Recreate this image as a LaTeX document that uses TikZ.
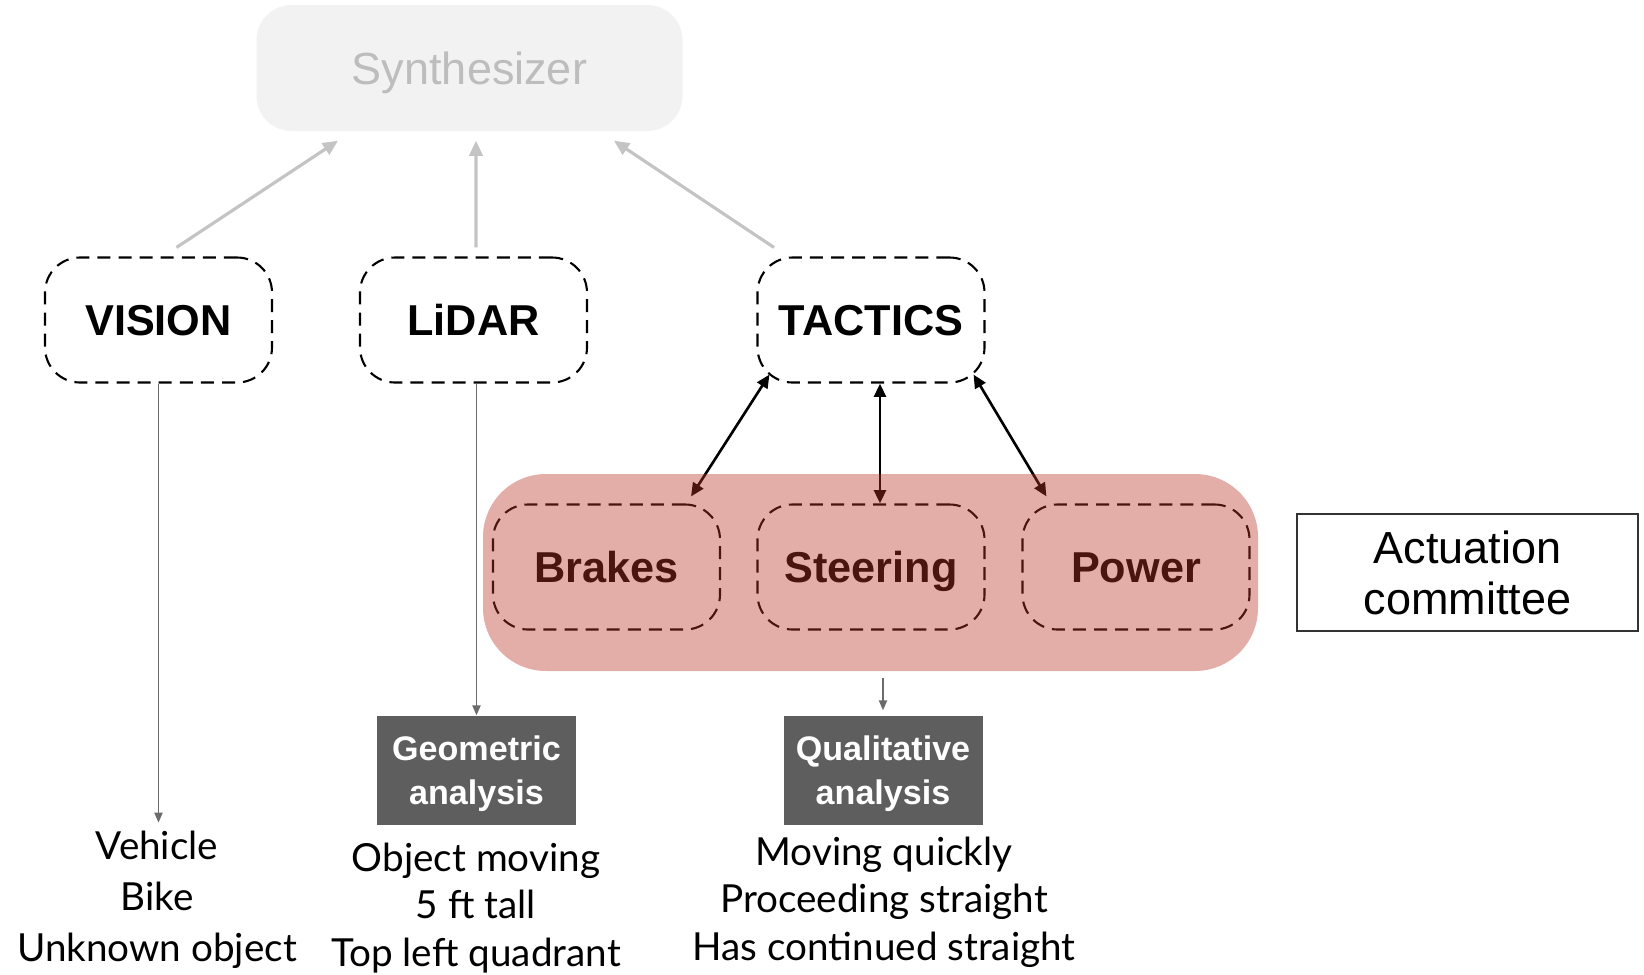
\documentclass[tikz,border=0pt]{standalone}
\usepackage{fontspec}
\setmainfont{Liberation Sans}
\newfontfamily\listfont{Lato}
\usetikzlibrary{positioning,arrows.meta}
\definecolor{synthfill}{RGB}{242,242,242}
\definecolor{synthtext}{RGB}{189,189,189}
\definecolor{synthline}{RGB}{196,196,196}
\definecolor{groupred}{RGB}{185,50,38}
\definecolor{darkbox}{RGB}{94,94,94}
\definecolor{downline}{RGB}{107,107,107}

\begin{document}
\begin{tikzpicture}[
        tagfont/.style={font=\fontsize{12.3}{14}\selectfont\bfseries},
        dashbox/.style={rectangle, draw, dash pattern=on 3.7pt off 2.3pt, line width=0.6pt, rounded corners=0.35cm, minimum width=2.27cm, minimum height=1.25cm, text height=1.08em, text depth=0.22em, tagfont},
        synthbox/.style={rectangle, fill=synthfill, rounded corners=0.35cm, minimum width=4.26cm, minimum height=1.26cm, text height=1.16em, text depth=0.22em, text=synthtext, font=\fontsize{12.8}{15}\selectfont},
        groupbox/.style={rectangle, fill=groupred, fill opacity=0.4, rounded corners=0.63cm, minimum width=7.75cm, minimum height=1.97cm},
        greybox/.style={rectangle, fill=darkbox, text=white, minimum width=1.99cm, minimum height=1.09cm, align=center, inner sep=1pt, text depth=-0.18em, font=\fontsize{9.7}{12.5}\selectfont\bfseries},
        plainbox/.style={rectangle, draw=black!80, line width=0.4pt, minimum width=3.41cm, minimum height=1.17cm, align=center, font=\fontsize{12.8}{14.5}\selectfont},
        listtext/.style={align=center, inner sep=0pt, font=\listfont\fontsize{11}{13.5}\selectfont},
        synarrow/.style={-{Triangle[length=4.3pt,width=3.8pt]}, line width=0.9pt, draw=synthline},
        linkarrow/.style={{Triangle[length=3.8pt,width=3.4pt]}-{Triangle[length=3.8pt,width=3.4pt]}, line width=0.75pt},
        downarrow/.style={-{Triangle[length=2.8pt,width=2.3pt]}, line width=0.45pt, draw=downline}
    ]
    \useasboundingbox (0,0) rectangle (16.44,-9.75);

    \node[synthbox] (synth) at (4.695,-0.68) {Synthesizer};

    \node[dashbox] (vision) at (1.585,-3.20) {VISION};
    \node[dashbox] (lidar) at (4.735,-3.20) {LiDAR};
    \node[dashbox] (tactics) at (8.71,-3.20) {TACTICS};

    \node[dashbox] (brakes) at (6.065,-5.67) {Brakes};
    \node[dashbox] (steering) at (8.71,-5.67) {Steering};
    \node[dashbox] (power) at (11.36,-5.67) {Power};

    \draw[linkarrow] ([xshift=0.13cm,yshift=0.09cm]tactics.south west) -- ([xshift=-0.30cm,yshift=0.07cm]brakes.north east);
    \draw[linkarrow] ([xshift=0.09cm]tactics.south) -- ([xshift=0.09cm]steering.north);
    \draw[linkarrow] ([xshift=-0.12cm,yshift=0.09cm]tactics.south east) -- ([xshift=0.25cm,yshift=0.07cm]power.north west);

    \node[groupbox] (group) at (8.705,-5.725) {};
    \node[plainbox] (actuation) at (14.675,-5.725) {Actuation\\committee};

    \node[greybox] (geometric) at (4.765,-7.705) {Geometric\\analysis};
    \node[greybox] (qualitative) at (8.83,-7.705) {Qualitative\\analysis};

    \node[listtext, font=\listfont\fontsize{11}{14.5}\selectfont] (visionlist) at (1.57,-9.0) {Vehicle\\Bike\\Unknown object};
    \node[listtext] (lidarlist) at (4.76,-9.08) {Object moving\\5 ft tall\\Top left quadrant};
    \node[listtext] (quallist) at (8.84,-9.02) {Moving quickly\\Proceeding straight\\Has continued straight};

    \draw[synarrow] ([xshift=0.18cm,yshift=0.09cm]vision.north) -- ([xshift=-1.315cm,yshift=-0.09cm]synth.south);
    \draw[synarrow] ([xshift=0.025cm,yshift=0.09cm]lidar.north) -- ([xshift=0.065cm,yshift=-0.09cm]synth.south);
    \draw[synarrow] ([xshift=-0.97cm,yshift=0.09cm]tactics.north) -- ([xshift=1.445cm,yshift=-0.09cm]synth.south);

    \draw[downarrow] (vision.south) -- ([yshift=0.08cm]vision.south |- visionlist.north);
    \draw[downarrow] (geometric.north |- lidar.south) -- (geometric.north);
    \draw[downarrow, shorten <=0.06cm, shorten >=0.05cm] (qualitative.north |- group.south) -- (qualitative.north);
\end{tikzpicture}
\end{document}
